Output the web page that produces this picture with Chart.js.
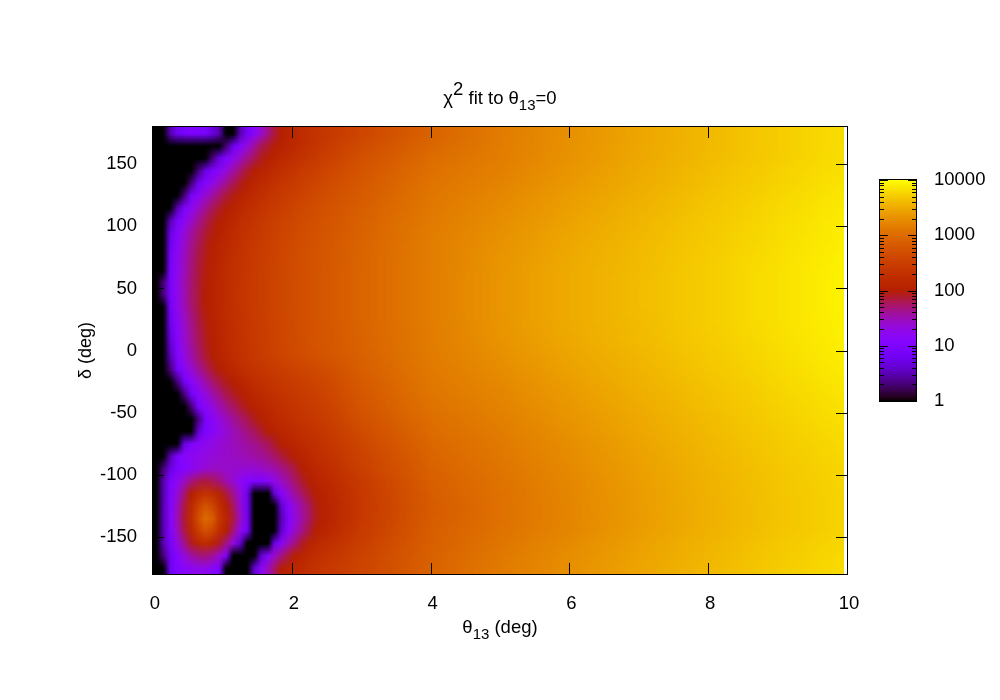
<!DOCTYPE html>
<html>
<head>
<meta charset="utf-8">
<style>
  html, body { margin: 0; padding: 0; background: #fff; }
  #wrap { position: relative; width: 1000px; height: 700px; }
  #main { position: absolute; left: 0; top: 0; }
  #bar { position: absolute; left: 860px; top: 150px; }
</style>
<script src="https://cdn.jsdelivr.net/npm/chart.js@4"></script>
</head>
<body>
<div id="wrap">
  <canvas id="main" width="1000" height="700"></canvas>
  <canvas id="bar" width="140" height="280"></canvas>
</div>
<script>
// theta13 columns: fine up to 2.5 deg, coarse after that
const thetaValues = [0.05,0.15,0.25,0.35,0.45,0.55,0.65,0.75,0.85,0.95,1.05,1.15,1.25,1.35,1.45,1.55,1.65,1.75,1.85,1.95,2.05,2.15,2.25,2.35,2.45,3,4,5,6,7,8,9,9.95];
const deltaValues = [175,165,155,145,135,125,115,105,95,85,75,65,55,45,35,25,15,5,-5,-15,-25,-35,-45,-55,-65,-75,-85,-95,-105,-115,-125,-135,-145,-155,-165,-175];
const xTicks = [0,2,4,6,8,10];
const yTicks = [-150,-100,-50,0,50,100,150];
const cbTicks = [1,10,100,1000,10000];

// chi2, one row per delta
const chi2Rows = [
[1,1,3,6,8,9,9,8,5,3,1,1,3,7,13,25,45,70,100,125,150,170,195,215,240,400,840,1400,2050,2930,3960,5210,6550],
[1,1,1,1,1,1,1,1,1,1,2,6,12,22,37,60,78,97,115,135,155,180,205,235,265,470,920,1420,2080,2960,3990,5260,6600],
[1,1,1,1,1,1,1,1,2,5,10,17,28,42,60,85,105,125,148,170,195,220,250,280,315,540,1020,1460,2140,3020,4070,5340,6720],
[1,1,1,1,1,1,2,5,9,14,22,35,52,75,100,122,145,168,192,218,245,275,305,340,375,600,1120,1550,2260,3150,4210,5520,6950],
[1,1,1,1,1,2,6,11,18,28,42,60,82,108,130,155,180,205,232,260,290,322,355,390,430,660,1200,1640,2380,3280,4360,5700,7190],
[1,1,1,1,2,8,15,24,36,52,72,92,115,140,165,190,217,245,273,303,335,368,402,440,480,710,1270,1760,2530,3450,4540,5930,7480],
[1,1,1,3,9,16,26,40,57,78,98,120,146,172,198,226,255,285,316,348,382,417,453,490,530,760,1330,1860,2670,3600,4720,6140,7760],
[1,1,3,8,15,26,40,58,80,98,120,145,172,200,228,257,287,318,350,383,417,452,488,525,565,800,1380,1960,2800,3740,4870,6330,8010],
[1,1,5,12,22,36,52,72,92,112,136,162,190,218,247,277,308,340,373,407,442,478,515,553,592,830,1420,2050,2920,3870,5010,6500,8230],
[1,1,6,14,26,42,60,82,102,125,150,177,205,233,262,292,323,355,388,422,457,493,530,568,607,850,1440,2130,3020,3970,5130,6640,8420],
[1,1,7,16,29,46,66,88,110,134,160,187,215,244,273,303,334,366,399,433,468,504,541,579,618,860,1440,2190,3100,4070,5230,6770,8580],
[1,1,8,17,30,48,69,92,115,140,166,193,221,250,279,309,340,372,405,439,474,510,547,585,624,870,1440,2230,3160,4120,5290,6840,8680],
[1,2,8,18,32,50,71,96,118,143,169,196,224,253,282,312,343,375,408,442,477,513,550,588,627,875,1440,2260,3190,4160,5330,6890,8740],
[1,2,8,18,32,51,72,98,120,145,171,198,226,255,284,314,345,377,410,444,479,515,552,590,629,875,1440,2260,3190,4160,5330,6890,8740],
[1,1,7,17,31,49,70,96,118,143,169,196,224,253,282,312,343,375,408,442,477,513,550,588,627,875,1440,2260,3190,4160,5330,6890,8740],
[1,1,6,15,27,44,64,90,112,136,162,189,217,246,275,305,336,368,401,435,470,506,543,581,620,865,1440,2230,3160,4120,5290,6840,8680],
[1,1,5,13,25,41,60,85,108,132,158,185,213,242,271,301,332,364,397,431,466,502,539,577,616,850,1430,2190,3100,4070,5230,6770,8580],
[1,1,4,12,23,38,56,80,104,128,154,181,209,238,267,297,328,360,393,427,462,498,535,573,612,830,1420,2130,3020,3970,5130,6640,8420],
[1,1,3,10,20,33,50,72,98,122,147,174,202,230,258,286,315,345,375,406,438,471,505,540,575,800,1390,2030,2880,3830,4970,6450,8170],
[1,1,2,7,14,24,37,54,76,98,120,144,170,197,215,240,262,285,308,330,355,382,410,438,468,760,1350,1910,2740,3670,4790,6230,7890],
[1,1,1,2,7,13,22,34,50,68,87,104,126,150,175,196,217,240,262,285,308,333,358,385,412,690,1290,1800,2590,3510,4620,6020,7600],
[1,1,1,1,2,7,13,21,32,46,63,80,96,118,141,160,180,200,221,243,265,288,312,337,363,640,1230,1700,2450,3360,4450,5820,7330],
[1,1,1,1,1,2,8,14,21,31,43,57,74,94,115,133,151,170,190,211,232,254,277,301,326,590,1160,1590,2310,3210,4280,5610,7060],
[1,1,1,1,1,1,2,8,14,21,29,38,50,63,85,108,128,146,165,184,204,225,247,270,294,530,1080,1500,2200,3080,4130,5430,6830],
[1,1,1,1,1,1,4,9,13,18,24,30,38,47,58,76,100,116,132,150,168,187,207,228,250,470,1000,1420,2080,2960,3990,5260,6600],
[1,1,1,1,5,10,14,17,20,23,26,29,33,37,42,50,60,78,103,120,137,157,176,195,215,410,930,1340,1970,2830,3860,5080,6380],
[1,1,3,9,13,16,18,20,22,24,26,28,30,32,35,39,45,54,68,88,108,128,150,173,197,370,870,1280,1890,2740,3750,4960,6210],
[1,2,5,9,12,15,20,24,27,27,26,25,24,23,24,26,30,34,42,54,72,104,122,142,163,330,820,1220,1810,2650,3650,4830,6050],
[1,3,9,16,28,45,62,70,62,48,33,24,16,12,10,10,13,18,27,38,54,76,100,118,138,290,770,1180,1760,2590,3580,4750,5940],
[1,3,10,22,50,100,165,215,180,120,72,42,22,6,1,1,1,4,12,24,38,55,78,102,122,270,740,1150,1720,2540,3530,4690,5860],
[1,3,11,28,68,150,330,560,400,195,105,58,24,6,1,1,1,1,4,12,24,38,58,90,112,260,710,1130,1700,2510,3490,4640,5810],
[1,3,12,30,75,175,480,1000,750,250,125,70,28,7,1,1,1,1,3,10,22,36,56,88,112,270,720,1120,1680,2500,3480,4620,5780],
[1,3,11,28,65,140,300,520,380,180,100,48,18,7,1,1,1,1,4,13,28,44,70,105,125,290,750,1160,1730,2560,3550,4710,5880],
[1,3,8,20,42,80,130,165,130,80,45,20,4,1,1,1,1,5,14,30,48,80,122,145,170,320,780,1240,1840,2680,3680,4870,6100],
[1,2,6,12,22,34,44,48,40,26,10,1,1,1,1,4,12,26,44,72,108,130,155,182,210,360,810,1320,1950,2800,3820,5040,6320],
[1,1,6,10,13,16,18,18,14,9,1,1,1,1,4,14,30,52,98,120,142,165,190,216,244,390,830,1370,2020,2880,3900,5150,6460]
];

const LOG_MAX = 4;
const FONT = '"Liberation Sans", Arial, sans-serif';

// gnuplot default pm3d palette 7,5,15, log colour axis 1..10000
function paletteColor(x) {
    x = Math.max(0, Math.min(1, x));
    const r = Math.round(255 * Math.sqrt(x));
    const g = Math.round(255 * x * x * x);
    const b = Math.round(255 * Math.max(0, Math.sin(2 * Math.PI * x)));
    return 'rgb(' + r + ',' + g + ',' + b + ')';
}
function chiColor(v) {
    return paletteColor(Math.log10(Math.max(v, 1)) / LOG_MAX);
}

// Table for the dataset, one entry per cell
const cells = [];
chi2Rows.forEach((row, j) => {
    row.forEach((v, i) => cells.push({ x: thetaValues[i], y: deltaValues[j], v: v, i: i, j: j }));
});

const heatmapPlugin = {
    id: 'heatmap',
    beforeDatasetsDraw(chart) {
        const ctx = chart.ctx;
        const xs = chart.scales.x, ys = chart.scales.y;
        // one source pixel per cell, shaded between cell centres when it is scaled up
        const src = document.createElement('canvas');
        src.width = thetaValues.length;
        src.height = deltaValues.length;
        const sctx = src.getContext('2d');
        chart.data.datasets[0].data.forEach(c => {
            sctx.fillStyle = chiColor(c.v);
            sctx.fillRect(c.i, c.j, 1, 1);
        });
        const top = ys.getPixelForValue(180);
        const height = ys.getPixelForValue(-180) - top;
        ctx.save();
        ctx.imageSmoothingEnabled = true;
        ctx.drawImage(src, 0, 0, 0.5, src.height, xs.getPixelForValue(0), top,
            xs.getPixelForValue(thetaValues[0]) - xs.getPixelForValue(0), height);
        for (let i = 1; i < thetaValues.length; i++) {
            const left = Math.round(xs.getPixelForValue(thetaValues[i - 1]));
            const right = Math.round(xs.getPixelForValue(thetaValues[i]));
            ctx.drawImage(src, i - 0.5, 0, 1, src.height, left, top, right - left, height);
        }
        ctx.restore();
    }
};

// text with raised / lowered parts
function drawRich(ctx, parts, cx, baseline) {
    let width = 0;
    parts.forEach(p => {
        ctx.font = p.size + 'px ' + FONT;
        width += ctx.measureText(p.text).width;
    });
    let x = cx - width / 2;
    ctx.textAlign = 'left';
    ctx.textBaseline = 'alphabetic';
    ctx.fillStyle = '#000';
    parts.forEach(p => {
        ctx.font = p.size + 'px ' + FONT;
        ctx.fillText(p.text, x, baseline + (p.dy || 0));
        x += ctx.measureText(p.text).width;
    });
}

const framePlugin = {
    id: 'frame',
    afterDraw(chart) {
        const ctx = chart.ctx;
        const a = chart.chartArea;
        const xs = chart.scales.x, ys = chart.scales.y;
        const len = 11;
        ctx.save();
        ctx.strokeStyle = '#000';
        ctx.lineWidth = 1;
        ctx.beginPath();
        xTicks.slice(1, -1).forEach(t => {
            const p = Math.round(xs.getPixelForValue(t)) + 0.5;
            ctx.moveTo(p, a.top); ctx.lineTo(p, a.top + len);
            ctx.moveTo(p, a.bottom); ctx.lineTo(p, a.bottom - len);
        });
        yTicks.forEach(t => {
            const p = Math.round(ys.getPixelForValue(t)) + 0.5;
            ctx.moveTo(a.left, p); ctx.lineTo(a.left + len, p);
            ctx.moveTo(a.right, p); ctx.lineTo(a.right - len, p);
        });
        ctx.stroke();
        ctx.strokeRect(a.left - 0.5, a.top - 0.5, a.right - a.left + 1, a.bottom - a.top + 1);

        drawRich(ctx, [
            { text: 'χ', size: 18.5 },
            { text: '2', size: 18.5, dy: -9 },
            { text: ' fit to θ', size: 18.5 },
            { text: '13', size: 15, dy: 6 },
            { text: '=0', size: 18.5 }
        ], 500, 104);
        drawRich(ctx, [
            { text: 'θ', size: 18.5 },
            { text: '13', size: 15, dy: 6 },
            { text: ' (deg)', size: 18.5 }
        ], 500, 633);
        ctx.restore();
    }
};

new Chart(document.getElementById('main'), {
    type: 'scatter',
    data: { datasets: [{ data: cells, pointRadius: 0, pointHoverRadius: 0 }] },
    options: {
        responsive: false,
        animation: false,
        layout: { padding: { left: 75, top: 127, right: 153, bottom: 60 } },
        plugins: { legend: { display: false }, tooltip: { enabled: false } },
        scales: {
            x: {
                type: 'linear', min: 0, max: 10,
                grid: { display: false }, border: { display: false },
                afterBuildTicks: s => { s.ticks = xTicks.map(v => ({ value: v })); },
                afterFit: s => { s.height = 66; },
                ticks: { color: '#000', padding: 11, labelOffset: 2, maxRotation: 0, font: { family: FONT, size: 18.5 } }
            },
            y: {
                type: 'linear', min: -180, max: 180,
                grid: { display: false }, border: { display: false },
                afterBuildTicks: s => { s.ticks = yTicks.map(v => ({ value: v })); },
                afterFit: s => { s.width = 78; },
                title: { display: true, text: 'δ (deg)', color: '#000', padding: 0, font: { family: FONT, size: 18 } },
                ticks: { color: '#000', padding: 8, font: { family: FONT, size: 18.5 } }
            }
        }
    },
    plugins: [heatmapPlugin, framePlugin]
});

const colorBarPlugin = {
    id: 'colorBar',
    beforeDatasetsDraw(chart) {
        const ctx = chart.ctx;
        const a = chart.chartArea;
        const g = ctx.createLinearGradient(0, a.bottom, 0, a.top);
        for (let k = 0; k <= 100; k++) g.addColorStop(k / 100, paletteColor(k / 100));
        ctx.fillStyle = g;
        ctx.fillRect(a.left, a.top, a.right - a.left, a.bottom - a.top);
    },
    afterDraw(chart) {
        const ctx = chart.ctx;
        const a = chart.chartArea;
        const ys = chart.scales.y;
        ctx.save();
        ctx.strokeStyle = '#000';
        ctx.lineWidth = 1;
        ctx.beginPath();
        cbTicks.forEach((t, n) => {
            const p = Math.round(ys.getPixelForValue(t)) + 0.5;
            ctx.moveTo(a.left, p); ctx.lineTo(a.left + 8, p);
            ctx.moveTo(a.right, p); ctx.lineTo(a.right - 8, p);
            if (n === cbTicks.length - 1) return;
            for (let m = 2; m < 10; m++) {
                const q = Math.round(ys.getPixelForValue(t * m)) + 0.5;
                ctx.moveTo(a.left, q); ctx.lineTo(a.left + 4, q);
                ctx.moveTo(a.right, q); ctx.lineTo(a.right - 4, q);
            }
        });
        ctx.stroke();
        ctx.strokeRect(a.left - 0.5, a.top - 0.5, a.right - a.left + 1, a.bottom - a.top + 1);
        ctx.restore();
    }
};

new Chart(document.getElementById('bar'), {
    type: 'scatter',
    data: { datasets: [{ data: cbTicks.map(v => ({ x: 0, y: v })), pointRadius: 0, pointHoverRadius: 0 }] },
    options: {
        responsive: false,
        animation: false,
        layout: { padding: { left: 20, top: 30, right: 0, bottom: 29 } },
        plugins: { legend: { display: false }, tooltip: { enabled: false } },
        scales: {
            x: { type: 'linear', min: 0, max: 1, display: false },
            y: {
                type: 'logarithmic', position: 'right', min: 1, max: 10000,
                grid: { display: false }, border: { display: false },
                afterBuildTicks: s => { s.ticks = cbTicks.map(v => ({ value: v })); },
                afterFit: s => { s.width = 84; },
                ticks: {
                    color: '#000', padding: 10, autoSkip: false,
                    font: { family: FONT, size: 18.5 },
                    callback: v => String(v)
                }
            }
        }
    },
    plugins: [colorBarPlugin]
});
</script>
</body>
</html>
